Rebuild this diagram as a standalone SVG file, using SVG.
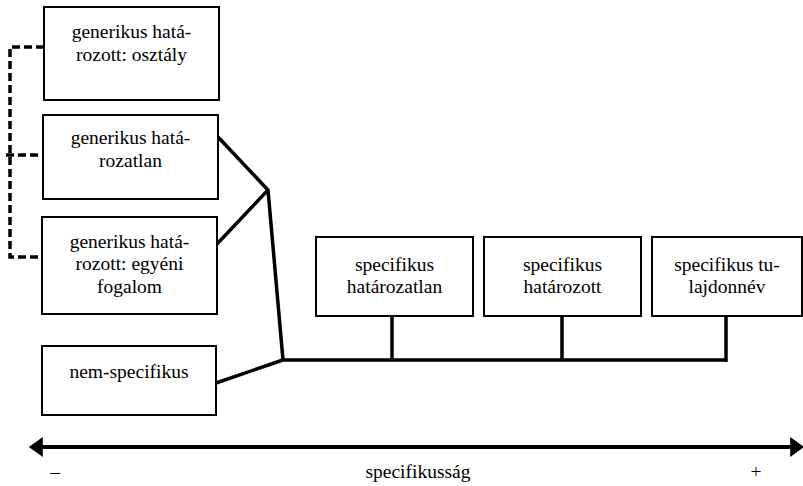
<svg xmlns="http://www.w3.org/2000/svg" width="803" height="486" viewBox="0 0 803 486">
<style>
.box{fill:#fff;stroke:#000;stroke-width:2}
.dash{fill:none;stroke:#000;stroke-width:3.5;stroke-dasharray:8,4}
.solid{fill:none;stroke:#000;stroke-width:3.5;stroke-linejoin:miter}
</style>
<defs>
<marker id="ah" markerWidth="4" markerHeight="5" refX="0.2" refY="2.5" orient="auto-start-reverse" markerUnits="strokeWidth">
<path d="M0,0 L3.5,2.5 L0,5 Z" fill="#000"/>
</marker>
</defs>
<rect width="803" height="486" fill="#fff"/>
<g id="connectors">
<path class="dash" d="M44,47 H10 V257 H42"/>
<path class="dash" d="M6,155 H44"/>
<path class="solid" d="M218,137 L268,190 L283,360 M217,244 L268,190 M216,383 L283,360 M283,360 H727 M392,315 V360 M562,315 V360 M726,315 V362"/>
<line x1="42" y1="447" x2="791" y2="447" stroke="#000" stroke-width="4" marker-start="url(#ah)" marker-end="url(#ah)"/>
</g>
<g id="n1"><rect class="box" x="44" y="7" width="175" height="93"/><text font-family="Liberation Serif" font-size="19.5" text-anchor="middle" x="131.5" y="38">generikus hatá-</text><text font-family="Liberation Serif" font-size="19.5" text-anchor="middle" x="131.5" y="61">rozott: osztály</text></g>
<g id="n2"><rect class="box" x="43" y="115" width="175" height="84"/><text font-family="Liberation Serif" font-size="19.5" text-anchor="middle" x="130.5" y="144">generikus hatá-</text><text font-family="Liberation Serif" font-size="19.5" text-anchor="middle" x="130.5" y="167">rozatlan</text></g>
<g id="n3"><rect class="box" x="42" y="217" width="175" height="97"/><text font-family="Liberation Serif" font-size="19.5" text-anchor="middle" x="129.5" y="248">generikus hatá-</text><text font-family="Liberation Serif" font-size="19.5" text-anchor="middle" x="129.5" y="270">rozott: egyéni</text><text font-family="Liberation Serif" font-size="19.5" text-anchor="middle" x="129.5" y="293">fogalom</text></g>
<g id="n4"><rect class="box" x="42" y="346" width="174" height="69"/><text font-family="Liberation Serif" font-size="19.5" text-anchor="middle" x="129" y="378">nem-specifikus</text></g>
<g id="s1"><rect class="box" x="316" y="237" width="157" height="79"/><text font-family="Liberation Serif" font-size="19.5" text-anchor="middle" x="394.5" y="271">specifikus</text><text font-family="Liberation Serif" font-size="19.5" text-anchor="middle" x="394.5" y="293">határozatlan</text></g>
<g id="s2"><rect class="box" x="484" y="237" width="157" height="79"/><text font-family="Liberation Serif" font-size="19.5" text-anchor="middle" x="562.5" y="271">specifikus</text><text font-family="Liberation Serif" font-size="19.5" text-anchor="middle" x="562.5" y="293">határozott</text></g>
<g id="s3"><rect class="box" x="652" y="237" width="150" height="79"/><text font-family="Liberation Serif" font-size="19.5" text-anchor="middle" x="727" y="271">specifikus tu-</text><text font-family="Liberation Serif" font-size="19.5" text-anchor="middle" x="727" y="293">lajdonnév</text></g>
<g id="axis-labels">
<text font-family="Liberation Serif" font-size="19.5" text-anchor="middle" x="55" y="478">–</text>
<text font-family="Liberation Serif" font-size="19.5" text-anchor="middle" x="418" y="478">specifikusság</text>
<text font-family="Liberation Serif" font-size="19.5" text-anchor="middle" x="756" y="478">+</text>
</g>
</svg>
